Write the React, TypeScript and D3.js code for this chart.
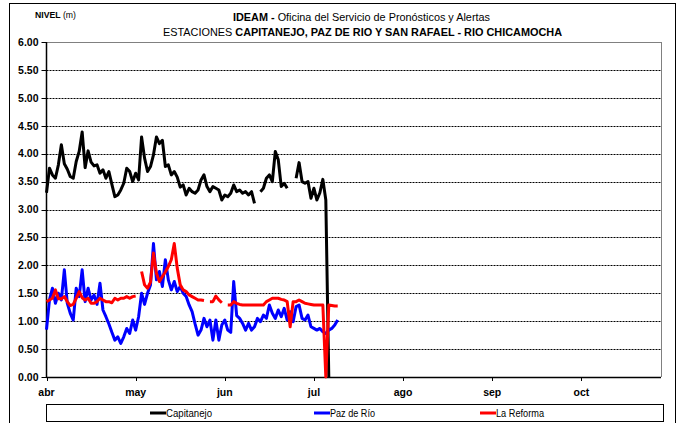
import React from 'react';
import * as d3 from 'd3';

// Month axis (day index counted from 1 April)
const monthLabels = ['abr', 'may', 'jun', 'jul', 'ago', 'sep', 'oct'];
const monthTickDays = [0, 30, 60, 90, 120, 150, 180];
const yTickValues = [0, 0.5, 1, 1.5, 2, 2.5, 3, 3.5, 4, 4.5, 5, 5.5, 6];

// Daily water levels (m), from 1 April; null = no record
const capitanejo: (number | null)[] = [
  3.30, 3.74, 3.62, 3.56, 3.80, 4.16, 3.82, 3.72, 3.59, 3.56,
  3.86, 4.04, 4.39, 3.75, 4.05, 3.85, 3.78, 3.80, 3.65, 3.71,
  3.56, 3.68, 3.45, 3.23, 3.26, 3.35, 3.47, 3.74, 3.68, 3.50,
  3.65, 3.53, 4.30, 3.92, 3.68, 3.77, 3.98, 4.30, 4.18, 4.24,
  3.77, 3.80, 3.62, 3.68, 3.58, 3.40, 3.44, 3.26, 3.38, 3.32,
  3.29, 3.35, 3.53, 3.62, 3.41, 3.32, 3.41, 3.38, 3.35, 3.17,
  3.26, 3.23, 3.29, 3.44, 3.32, 3.35, 3.29, 3.32, 3.26, 3.32,
  3.11, null, 3.32, 3.38, 3.56, 3.62, 3.50, 4.04, 3.89, 3.41,
  3.47, 3.38, null, null, 3.56, 3.84, 3.50, 3.47, 3.50, 3.20,
  3.38, 3.17, 3.30, 3.54, 3.17, 0,
];

const pazDeRio: (number | null)[] = [
  0.85, 1.38, 1.59, 1.32, 1.50, 1.38, 1.92, 1.32, 1.14, 1.02,
  1.59, 1.44, 1.92, 1.35, 1.59, 1.38, 1.47, 1.30, 1.68, 1.20,
  1.08, 0.95, 0.80, 0.66, 0.72, 0.60, 0.72, 0.87, 0.78, 1.02,
  0.84, 1.08, 1.50, 1.30, 1.50, 1.65, 2.39, 1.74, 1.89, 1.62,
  2.10, 1.74, 1.56, 1.71, 1.53, 1.62, 1.50, 1.44, 1.29, 1.17,
  0.95, 0.75, 0.84, 1.05, 0.90, 1.02, 0.66, 1.02, 0.66, 0.93,
  1.02, 0.84, 0.80, 1.71, 1.10, 1.05, 0.96, 0.84, 0.96, 0.84,
  0.90, 1.05, 0.99, 1.11, 1.05, 1.29, 1.14, 1.05, 1.20, 1.08,
  1.23, 1.02, 1.17, 0.99, 1.26, 1.29, 1.05, 1.02, 1.11, 0.90,
  0.87, 0.84, 0.87, 0.81, 0.78, 0.84, 0.87, 0.93, 1.02,
];

const laReforma: (number | null)[] = [
  1.35, 1.38, 1.41, 1.56, 1.40, 1.40, 1.44, 1.35, 1.28, 1.30,
  1.41, 1.53, 1.42, 1.38, 1.41, 1.32, 1.32, 1.35, 1.41, 1.38,
  1.35, 1.35, 1.33, 1.41, 1.38, 1.41, 1.41, 1.44, 1.41, 1.44,
  1.45, null, 1.89, 1.65, 1.59, 1.70, 2.22, 1.86, 1.71, 1.80,
  1.88, 1.98, 2.10, 2.39, 1.95, 1.65, 1.56, 1.53, 1.47, 1.44,
  1.41, 1.38, 1.38, 1.37, null, 1.35, 1.35, 1.45, 1.38, 1.33,
  null, 1.29, 1.29, 1.35, 1.32, 1.30, 1.29, 1.29, 1.29, 1.29,
  1.29, 1.29, 1.29, 1.29, 1.35, 1.38, 1.41, 1.41, 1.41, 1.39,
  1.38, 1.35, 0.90, 1.35, 1.35, 1.38, 1.35, 1.32, 1.31, 1.30,
  1.29, 1.29, 1.29, 1.29, 0, 1.29, 1.28, 1.27, 1.27,
];

const seriesNames = ['Capitanejo', 'Paz de Río', 'La Reforma'];
const seriesColors = ['#000000', '#0000ff', '#ff0000'];
const seriesData = [capitanejo, pazDeRio, laReforma];

const titleLine1Bold = 'IDEAM - ';
const titleLine1 = 'Oficina del Servicio de Pronósticos y Alertas';
const titleLine2Normal = 'ESTACIONES ';
const titleLine2Bold = 'CAPITANEJO, PAZ DE RIO Y SAN RAFAEL -  RIO CHICAMOCHA';

const NARROW = "'Liberation Sans Narrow', 'Arial Narrow', 'Liberation Sans', Arial, sans-serif";
const SANS = "'Liberation Sans', Arial, sans-serif";

export default function App() {
  const W = 679;
  const H = 423;
  const left = 46.5;
  const right = 661;
  const top = 42;
  const bottom = 377;

  const x = d3.scaleLinear().domain([0, 206.8]).range([left, right]);
  const y = d3.scaleLinear().domain([0, 6]).range([bottom, top]);

  const line = d3
    .line<number | null>()
    .defined((d) => d !== null)
    .x((_, i) => x(i))
    .y((d) => y(d as number));

  const legendX = [150, 314, 480];
  const legendTextWidth = [46, 45, 48];

  return (
    <svg
      width={W}
      height={H}
      style={{ position: 'absolute', left: 0, top: 0, background: '#fff' }}
    >
      <rect x={0} y={0} width={W} height={H} fill="#fff" />
      {/* outer frame */}
      <rect x={9.5} y={3.5} width={666} height={430} fill="none" stroke="#000" strokeWidth={1} />

      {/* titles */}
      <text x={35} y={18} fontFamily={NARROW} fontSize={9} fill="#000" textLength={41} lengthAdjust="spacingAndGlyphs">
        <tspan fontWeight="bold">NIVEL</tspan>
        <tspan> (m)</tspan>
      </text>
      <text
        x={233}
        y={21}
        fontFamily={NARROW}
        fontSize={11.5}
        fill="#000"
        textLength={257}
        lengthAdjust="spacingAndGlyphs"
      >
        <tspan fontWeight="bold">{titleLine1Bold}</tspan>
        <tspan>{titleLine1}</tspan>
      </text>
      <text
        x={163}
        y={36}
        fontFamily={NARROW}
        fontSize={11.5}
        fill="#000"
        textLength={399}
        lengthAdjust="spacingAndGlyphs"
      >
        <tspan>{titleLine2Normal}</tspan>
        <tspan fontWeight="bold">{titleLine2Bold}</tspan>
      </text>

      {/* gridlines */}
      {yTickValues
        .filter((v) => v > 0 && v < 6)
        .map((v) => (
          <line
            key={'g' + v}
            x1={left}
            x2={right}
            y1={Math.round(y(v)) + 0.5}
            y2={Math.round(y(v)) + 0.5}
            stroke="#000"
            strokeWidth={1}
            strokeDasharray="2 1"
          />
        ))}
      {/* plot frame top/right */}
      <line x1={left} x2={right} y1={top + 0.5} y2={top + 0.5} stroke="#808080" strokeWidth={1} />
      <line x1={right + 0.5} x2={right + 0.5} y1={top} y2={bottom} stroke="#808080" strokeWidth={1} />

      {/* y axis */}
      <line x1={left} x2={left} y1={top} y2={bottom + 1} stroke="#000" strokeWidth={1.5} />
      {yTickValues.map((v) => (
        <g key={'y' + v}>
          <line
            x1={left - 5}
            x2={left}
            y1={Math.round(y(v)) + 0.5}
            y2={Math.round(y(v)) + 0.5}
            stroke="#000"
            strokeWidth={1}
          />
          <text
            x={38.5}
            y={y(v) + 3.8}
            textAnchor="end"
            fontFamily={SANS}
            fontWeight="bold"
            fontSize={10.5}
            fill="#000"
          >
            {v.toFixed(2)}
          </text>
        </g>
      ))}

      {/* x axis */}
      <line x1={left} x2={right} y1={bottom + 0.5} y2={bottom + 0.5} stroke="#000" strokeWidth={1.5} />
      {monthTickDays.map((d, i) => (
        <g key={'x' + d}>
          <line
            x1={Math.round(x(d)) + 0.5}
            x2={Math.round(x(d)) + 0.5}
            y1={bottom}
            y2={bottom + 4}
            stroke="#000"
            strokeWidth={1}
          />
          <text
            x={x(d)}
            y={396}
            textAnchor="middle"
            fontFamily={SANS}
            fontWeight="bold"
            fontSize={10.5}
            fill="#000"
          >
            {monthLabels[i]}
          </text>
        </g>
      ))}

      {/* series */}
      {seriesData.map((data, i) => (
        <path
          key={seriesNames[i]}
          d={line(data) || ''}
          fill="none"
          stroke={seriesColors[i]}
          strokeWidth={3}
          strokeLinejoin="round"
          strokeLinecap="butt"
        />
      ))}

      {/* legend */}
      <rect x={46.5} y={404.5} width={617} height={17} fill="#fff" stroke="#000" strokeWidth={1} />
      {seriesNames.map((name, i) => (
        <g key={'l' + name}>
          <line
            x1={legendX[i]}
            x2={legendX[i] + 16}
            y1={413}
            y2={413}
            stroke={seriesColors[i]}
            strokeWidth={3}
          />
          <text
            x={legendX[i] + 16}
            y={416.5}
            fontFamily={NARROW}
            fontSize={10}
            fill="#000"
            textLength={legendTextWidth[i]}
            lengthAdjust="spacingAndGlyphs"
          >
            {name}
          </text>
        </g>
      ))}
    </svg>
  );
}
